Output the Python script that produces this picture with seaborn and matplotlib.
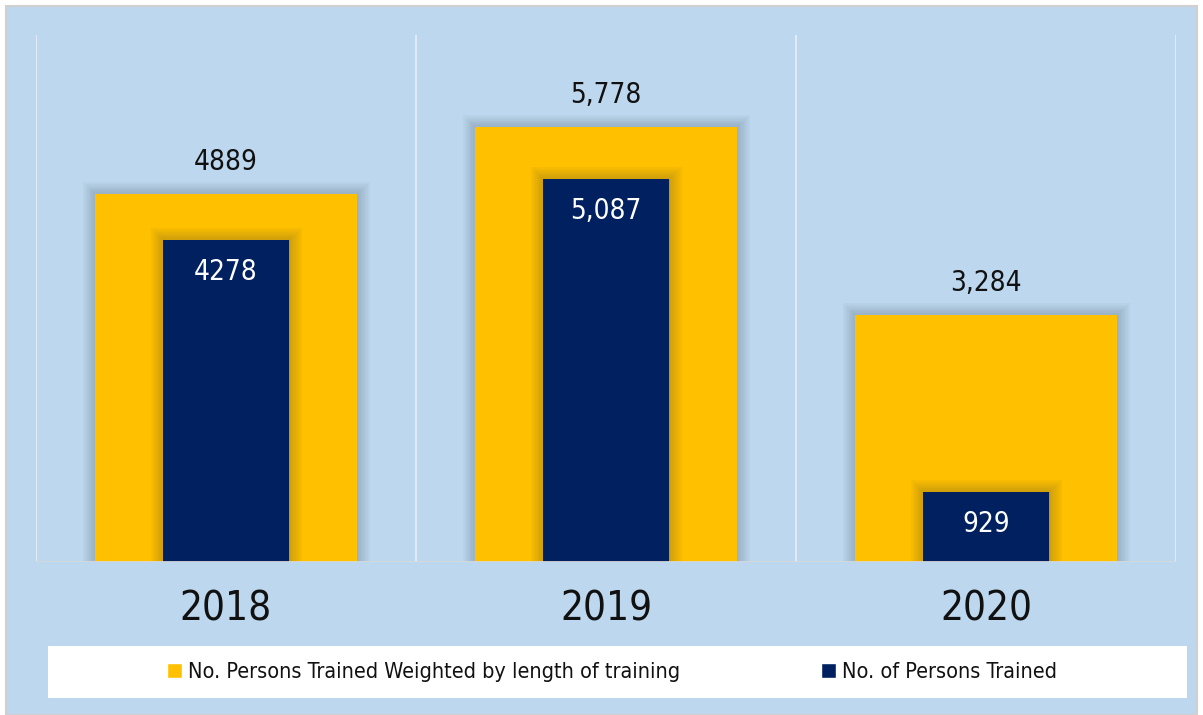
import pandas as pd
import matplotlib.pyplot as plt
import matplotlib.patheffects as pe
from matplotlib.patches import Patch, Rectangle
import seaborn as sns

# ── data ──────────────────────────────────────────────────────────────────────
years = ["2018", "2019", "2020"]
weighted = [4889, 5778, 3284]
trained = [4278, 5087, 929]
weighted_labels = ["4889", "5,778", "3,284"]
trained_labels = ["4278", "5,087", "929"]
series_names = ["No. Persons Trained Weighted by length of training",
                "No. of Persons Trained"]

YELLOW = "#FFC000"
NAVY = "#002060"
BG = "#BDD7EE"

sns.set_theme(style="white")
plt.rcParams["font.family"] = ["Liberation Sans Narrow", "DejaVu Sans"]
plt.rcParams["font.stretch"] = "condensed"

W, H = 1203, 715
fig = plt.figure(figsize=(W / 100, H / 100), dpi=100)
fig.patch.set_facecolor("white")
fig.add_artist(Rectangle((6 / W, 0), (1197 - 6) / W, (H - 6) / H,
                         transform=fig.transFigure, facecolor=BG,
                         edgecolor="#D0D0D0", lw=1.5, zorder=0))

ax = fig.add_axes([36 / W, 1 - 562 / H, (1176 - 36) / W, (562 - 35) / H])
ax.set_facecolor("none")

df = pd.DataFrame({"year": years, "weighted": weighted, "trained": trained})
sns.barplot(data=df, x="year", y="weighted", color=YELLOW, width=0.69,
            saturation=1, errorbar=None, ax=ax, zorder=2)
sns.barplot(data=df, x="year", y="trained", color=NAVY, width=0.33,
            saturation=1, errorbar=None, ax=ax, zorder=3)

# soft drop shadow around bars (stack of faint strokes)
shadow = [pe.Stroke(linewidth=w, foreground="#1f2f40", alpha=0.035)
          for w in (18, 15, 12, 9, 6, 3)] + [pe.Normal()]
for p in ax.patches:
    p.set_path_effects(shadow)
    p.set_edgecolor("none")

ax.set_xlim(-0.5, 2.5)
ax.set_ylim(0, 7000)
for x in [-0.5, 0.5, 1.5, 2.5]:
    ax.axvline(x, color="#E4EEF8", lw=1.3, zorder=1)
ax.axhline(0, color="#D9D9D9", lw=2, zorder=5)

for i, (v, t) in enumerate(zip(weighted, weighted_labels)):
    ax.annotate(t, (i, v), xytext=(0, 23), textcoords="offset points",
                ha="center", va="center", fontsize=20, color="#111111")
for i, (v, t) in enumerate(zip(trained, trained_labels)):
    ax.annotate(t, (i, v), xytext=(0, -23), textcoords="offset points",
                ha="center", va="center", fontsize=20, color="white", zorder=6)

ax.set_yticks([])
ax.set_xlabel("")
ax.set_ylabel("")
ax.tick_params(axis="x", length=0, labelsize=29, pad=20, labelcolor="#111111")
sns.despine(ax=ax, left=True, bottom=True)

# legend in a white band
fig.add_artist(Rectangle((48 / W, 1 - 698 / H), (1187 - 48) / W, 52 / H,
                         transform=fig.transFigure, facecolor="white",
                         edgecolor="none", zorder=1))
handles = [Patch(facecolor=YELLOW, label=series_names[0]),
           Patch(facecolor=NAVY, label=series_names[1])]
fig.legend(handles=handles, loc="center", bbox_to_anchor=(612 / W, 1 - 672 / H),
           ncol=2, frameon=False, fontsize=15.5, handlelength=0.7, handleheight=0.7,
           handletextpad=0.3, columnspacing=6.5, labelcolor="#111111")

fig.savefig("out.png", dpi=100, facecolor=fig.get_facecolor())
